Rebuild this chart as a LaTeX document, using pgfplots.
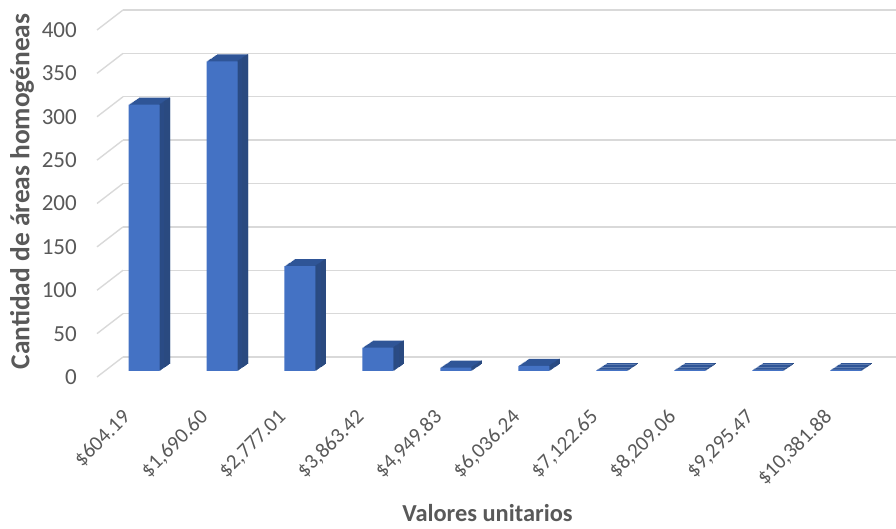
\documentclass[border=0pt]{standalone}
\usepackage{pgfplots}
\usepackage{pgfplotstable}
\pgfplotsset{compat=1.18}
\usepackage{fontspec}
\setmainfont{Carlito}

\definecolor{frontc}{HTML}{4472C4}
\definecolor{topc}{HTML}{2F5597}
\definecolor{sidec}{HTML}{2A4A80}
\definecolor{gridc}{HTML}{D9D9D9}
\definecolor{txtc}{HTML}{595959}

% cantidad de areas por valor unitario
\pgfplotstableread{
x y
0 307
1 357
2 121
3 27
4 4
5 6
6 1
7 1
8 1
9 1
}\datatable

\begin{document}
\begin{tikzpicture}
\useasboundingbox (0,0) rectangle (896bp,529bp);
\begin{axis}[
    at={(97bp,152bp)}, anchor=south west,
    scale only axis, width=773bp, height=347bp,
    clip=false,
    xmin=-0.603, xmax=9.31,
    ymin=0, ymax=400,
    ytick={0,50,...,400},
    xtick={0,...,9},
    xticklabels={{\$604.19},{\$1,690.60},{\$2,777.01},{\$3,863.42},{\$4,949.83},
                 {\$6,036.24},{\$7,122.65},{\$8,209.06},{\$9,295.47},{\$10,381.88}},
    axis line style={draw=none},
    tick style={draw=none},
    major tick length=0pt,
    ymajorgrids,
    major grid style={draw=gridc, line width=1.4bp, xshift=26bp, yshift=20bp},
    /pgf/number format/assume math mode=true,
    yticklabel style={font=\fontsize{23bp}{26bp}\selectfont, text=txtc,
        anchor=east, inner sep=0pt, xshift=-20bp},
    xticklabel style={font=\fontsize{21bp}{24bp}\selectfont, text=txtc,
        xshift=-17bp, yshift=-37bp, anchor=east, inner sep=0pt, rotate=45},
    xlabel={Valores unitarios},
    ylabel={Cantidad de áreas homogéneas},
    every axis x label/.style={at={(rel axis cs:0.5,0)}, anchor=center,
        xshift=4bp, yshift=-136bp, font=\bfseries\fontsize{24.4bp}{28bp}\selectfont, text=txtc},
    every axis y label/.style={at={(rel axis cs:0,0.5)}, anchor=center,
        xshift=-75bp, yshift=12bp, rotate=90,
        font=\bfseries\fontsize{27.4bp}{31bp}\selectfont, text=txtc},
]
% lineas inclinadas de la pared lateral
\pgfplotsinvokeforeach{0,50,...,400}{
  \draw[gridc, line width=1.4bp] (axis cs:-0.603,#1) -- ++(26bp,20bp);
}
% cara superior (extrusion)
\pgfplotsinvokeforeach{10,9,...,1}{
  \addplot[ybar, bar width=31bp, fill=topc, draw=none,
           xshift=#1*1.05bp, yshift=6bp+#1*0.7bp] table[x=x,y=y] {\datatable};
}
% cara lateral
\pgfplotsinvokeforeach{1,...,10}{
  \addplot[ybar, bar width=1.15bp, bar shift=14.925bp, fill=sidec, draw=none,
           xshift=#1*1.05bp, yshift=6bp+#1*0.7bp] table[x=x,y=y] {\datatable};
}
% cara frontal
\addplot[ybar, bar width=31bp, fill=frontc, draw=none, yshift=6bp]
  table[x=x,y=y] {\datatable};
\end{axis}
\end{tikzpicture}
\end{document}
